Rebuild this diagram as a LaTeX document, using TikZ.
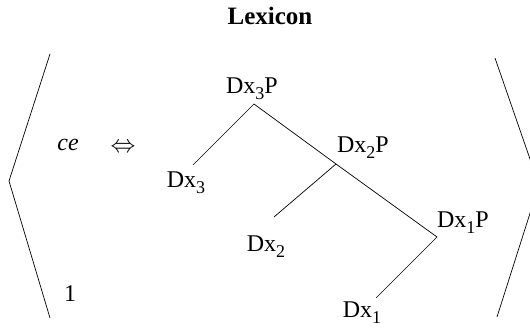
\documentclass[tikz,border=0pt]{standalone}
\usepackage{fontspec}
\setmainfont{Liberation Serif}
\newcommand{\lsub}[1]{\raisebox{-0.25em}{\fontsize{18}{18}\selectfont #1}}
\begin{document}
\begin{tikzpicture}[x=1pt,y=-1pt,
  lbl/.style={inner sep=0pt, anchor=base, font=\fontsize{24}{28}\selectfont},
  ln/.style={line width=0.7pt}]
\useasboundingbox (0,0) rectangle (530,328);
\node[lbl, font=\fontsize{25}{29}\selectfont\bfseries] (title) at (270,25) {Lexicon};
% brackets
\coordinate (lt) at (50,54);
\coordinate (lv) at (9,181);
\coordinate (lb) at (50,318);
\coordinate (rt) at (495,58);
\coordinate (rv) at (539,185);
\coordinate (rb) at (497,317);
\draw[ln] (lt) -- (lv) -- (lb);
\begin{scope}
\clip (0,0) rectangle (530,328);
\draw[ln] (rt) -- (rv) -- (rb);
\end{scope}
% left side
\node[lbl] (ce) at (68,151) {\textit{ce}};
\node[inner sep=0pt] (arr) at (123,148) {\fontsize{28}{28}\selectfont$\Leftrightarrow$};
\node[lbl] (one) at (70,302) {1};
% tree
\node[lbl] (d3p) at (252,94) {Dx\lsub{3}P};
\node[lbl] (d2p) at (363,153) {Dx\lsub{2}P};
\node[lbl] (d1p) at (463,228) {Dx\lsub{1}P};
\node[lbl] (d3) at (186,188) {Dx\lsub{3}};
\node[lbl] (d2) at (266,252) {Dx\lsub{2}};
\node[lbl] (d1) at (362,318) {Dx\lsub{1}};
\coordinate (apex) at (254,104);
\coordinate (b2) at (336,164);
\coordinate (b1) at (437,237);
\coordinate (e3) at (193,165);
\coordinate (e2) at (274,217);
\coordinate (e1) at (376,298);
\draw[ln] (e3) -- (apex) -- (b2) -- (b1) -- (e1);
\draw[ln] (b2) -- (e2);
\end{tikzpicture}
\end{document}
